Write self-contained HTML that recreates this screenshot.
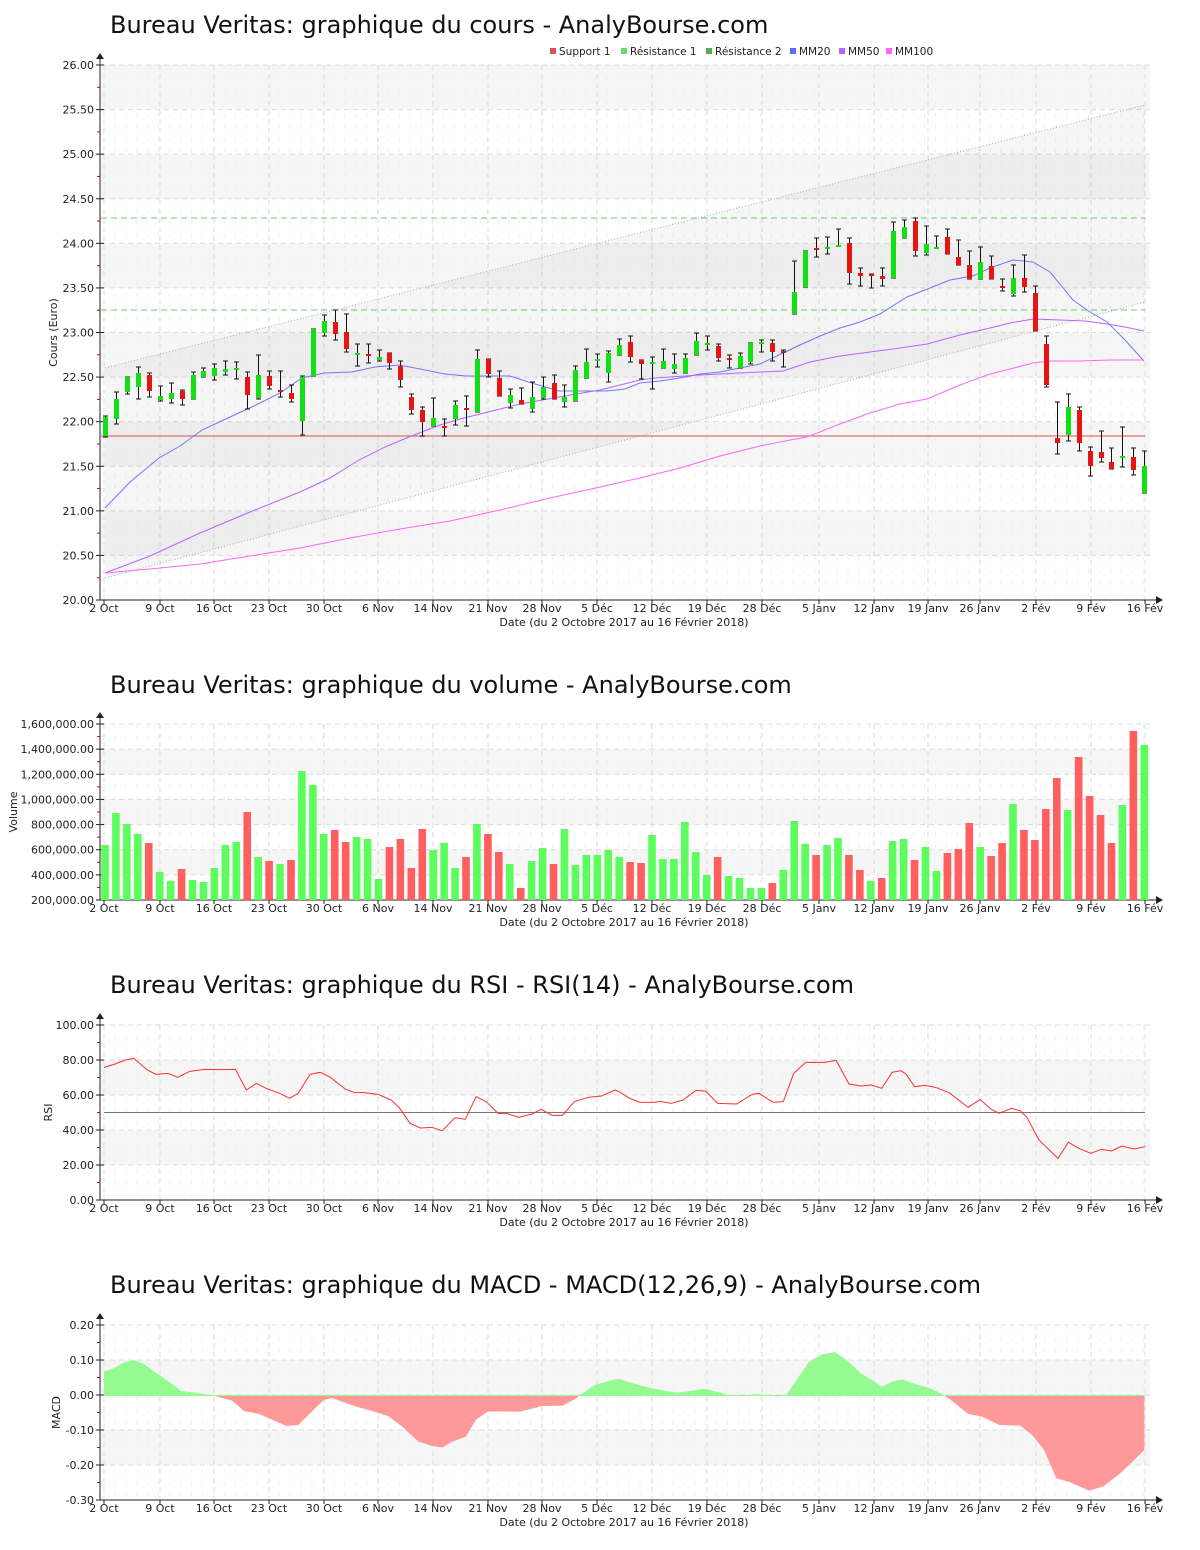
<!DOCTYPE html>
<html><head><meta charset="utf-8">
<style>
html,body{margin:0;padding:0;background:#fff;}
svg{display:block;}
text{font-family:"DejaVu Sans","Liberation Sans",sans-serif;}
</style></head>
<body>
<svg id="s" xmlns="http://www.w3.org/2000/svg" width="1200" height="1550" viewBox="0 0 1200 1550"></svg>
<script>
var S=document.getElementById('s');var out='';
var L=101,R=1150;
var dates=[[104,"2 Oct"],[160,"9 Oct"],[214,"16 Oct"],[269,"23 Oct"],[324,"30 Oct"],[378,"6 Nov"],[433,"14 Nov"],[488,"21 Nov"],[542,"28 Nov"],[597,"5 Déc"],[652,"12 Déc"],[707,"19 Déc"],[762,"28 Déc"],[819,"5 Janv"],[874,"12 Janv"],[928,"19 Janv"],[980,"26 Janv"],[1036,"2 Fév"],[1091,"9 Fév"],[1145,"16 Fév"]];
function X(i){return 105+i*10.94;}
function panel(top,bot,ticks,bands,title,titleY,ytitle,ytx){
  out+='<text x="110" y="'+titleY+'" font-size="24" fill="#111">'+title+'</text>';
  bands.forEach(function(b){out+='<rect x="'+L+'" y="'+b[0]+'" width="'+(R-L)+'" height="'+(b[1]-b[0])+'" fill="#f6f6f6"/>';});
  for(var i=0;i<96;i++){var x=X(i)-1;out+='<line x1="'+x+'" y1="'+top+'" x2="'+x+'" y2="'+bot+'" stroke="#efefef" stroke-dasharray="4,8"/>';}
  dates.forEach(function(d){out+='<line x1="'+d[0]+'" y1="'+top+'" x2="'+d[0]+'" y2="'+bot+'" stroke="#dcdcdc" stroke-dasharray="5,4"/>';});
  ticks.forEach(function(t,k){
    out+='<line x1="'+L+'" y1="'+t[0]+'" x2="'+R+'" y2="'+t[0]+'" stroke="#dcdcdc" stroke-dasharray="5,4"/>';
    out+='<line x1="96" y1="'+t[0]+'" x2="104" y2="'+t[0]+'" stroke="#222"/>';
    out+='<text x="94" y="'+(t[0]+4)+'" font-size="11" text-anchor="end" fill="#222">'+t[1]+'</text>';
    if(k<ticks.length-1){var m=(t[0]+ticks[k+1][0])/2;out+='<line x1="97" y1="'+m+'" x2="100" y2="'+m+'" stroke="#e00"/>';}
  });
  out+='<line x1="100" y1="'+(top-8)+'" x2="100" y2="'+bot+'" stroke="#222"/>';
  out+='<path d="M96 '+(top-6)+' L100 '+(top-12)+' L104 '+(top-6)+' Z" fill="#222"/>';
  out+='<line x1="100" y1="'+bot+'" x2="1158" y2="'+bot+'" stroke="#222"/>';
  out+='<path d="M1156 '+(bot-4)+' L1163 '+bot+' L1156 '+(bot+4)+' Z" fill="#222"/>';
  dates.forEach(function(d){
    out+='<line x1="'+d[0]+'" y1="'+bot+'" x2="'+d[0]+'" y2="'+(bot+4)+'" stroke="#222"/>';
    out+='<text x="'+d[0]+'" y="'+(bot+12)+'" font-size="11" text-anchor="middle" fill="#222">'+d[1]+'</text>';
  });
  out+='<text x="624" y="'+(bot+26)+'" font-size="11" text-anchor="middle" fill="#222">Date (du 2 Octobre 2017 au 16 Février 2018)</text>';
  var cy=(top+bot)/2;
  out+='<text x="'+ytx+'" y="'+cy+'" font-size="11" text-anchor="middle" fill="#222" transform="rotate(-90 '+ytx+' '+cy+')">'+ytitle+'</text>';
}
function poly(pts,col,w){out+='<polyline fill="none" stroke="'+col+'" stroke-width="'+(w||1)+'" points="'+pts.map(function(p){return p[0]+','+p[1]}).join(' ')+'"/>';}

function py(p){return 65+(26-p)*89.17;}
var t1=[],b1=[];
for(var k=0;k<=12;k++){var v=26-k*0.5;t1.push([py(v),v.toFixed(2)]);}
[[26,25.5],[25,24.5],[24,23.5],[23,22.5],[22,21.5],[21,20.5]].forEach(function(b){b1.push([py(b[0]),py(b[1])]);});
panel(65,600,t1,b1,"Bureau Veritas: graphique du cours - AnalyBourse.com",33,"Cours (Euro)",57);
out+='<polygon points="105,368 1145,105 1145,302 105,578" fill="rgba(0,0,0,0.035)"/>';
out+='<line x1="105" y1="368" x2="1145" y2="105" stroke="#aaa" stroke-dasharray="1,2"/>';
out+='<line x1="105" y1="578" x2="1145" y2="302" stroke="#aaa" stroke-dasharray="1,2"/>';
var lg=[[550,"#d05858","Support 1"],[621,"#66dd66","Résistance 1"],[706,"#55aa55","Résistance 2"],[790,"#6666ff","MM20"],[839,"#b066ff","MM50"],[886,"#ff66ff","MM100"]];
lg.forEach(function(l){out+='<rect x="'+l[0]+'" y="'+48+'" width="6" height="6" fill="'+l[1]+'"/><text x="'+(l[0]+9)+'" y="'+55+'" font-size="10.5" fill="#222">'+l[2]+'</text>';});
out+='<line x1="'+L+'" y1="436" x2="1145" y2="436" stroke="#e07070" stroke-width="1.2"/>';
out+='<line x1="'+L+'" y1="218" x2="1145" y2="218" stroke="#66cc66" stroke-dasharray="6,4"/>';
out+='<line x1="'+L+'" y1="310" x2="1145" y2="310" stroke="#66cc66" stroke-dasharray="6,4"/>';
poly([[105,508],[130,482],[159,458],[180,446],[202,430],[230,417],[256,405],[280,393],[302,378],[324,373],[352,372],[375,367],[399,365],[420,369],[445,374],[466,376],[488,376],[510,376],[535,384],[559,391],[580,391],[606,391],[625,389],[640,383],[660,381],[680,378],[700,374],[720,372],[740,368],[760,364],[783,353],[800,345],[820,336],[840,328],[860,322],[880,314],[907,297],[930,288],[950,280],[973,276],[990,268],[1013,260],[1033,262],[1050,272],[1073,300],[1090,312],[1107,322],[1125,340],[1144,361]],"#7575ff");
poly([[105,573],[150,556],[200,533],[250,512],[300,492],[330,478],[359,460],[385,447],[409,437],[440,425],[460,419],[488,412],[520,404],[559,397],[600,390],[640,380],[655,378],[700,375],[740,373],[783,371],[810,362],[840,356],[870,352],[900,348],[927,344],[960,335],[990,328],[1010,323],[1033,319],[1060,320],[1085,321],[1107,324],[1125,327],[1144,331]],"#b366ff");
poly([[105,573],[150,569],[200,564],[250,556],[300,548],[350,538],[400,529],[450,521],[500,510],[550,498],[600,487],[640,478],[680,468],[720,456],[760,446],[790,440],[807,437],[840,424],[870,413],[900,404],[927,399],[960,385],[990,374],[1010,369],[1033,363],[1050,361],[1080,361],[1110,360],[1144,360]],"#ff66ff");
var C=[
["g",416,437,417,436],["g",392,424,399,419],["g",377,394,377,392],["g",367,399,373,387],["r",373,397,375,391],
["g",386,401,396,400],["g",383,403,393,399],["r",390,405,391,399],["g",372,399,375,399],["g",368,377,371,377],
["g",364,380,368,376],["g",361,375,369,372],["g",362,379,368,370],["r",372,409,377,395],["g",355,399,375,398],
["r",371,389,376,386],["r",371,397,390,392],["r",385,402,393,399],["g",376,435,377,421],["g",329,376,329,376],
["g",315,336,321,333],["r",310,340,322,334],["r",314,352,332,349],["g",344,366,353,355],["r",344,363,354,356],
["g",350,361,357,360],["r",353,369,353,363],["r",361,387,366,380],["r",394,414,397,410],["r",407,436,410,422],
["g",398,426,418,426],["r",419,436,426,428],["g",401,425,405,419],["r",396,426,408,410],["g",350,412,359,412],
["r",359,377,359,374],["r",371,396,378,396],["g",389,408,395,403],["r",388,404,400,404],["g",382,412,397,409],
["g",377,399,387,398],["r",375,399,383,399],["g",385,407,397,402],["g",366,401,370,401],["g",349,378,362,378],
["g",354,367,359,361],["g",351,382,353,373],["g",339,355,345,355],["r",336,362,342,357],["r",360,379,360,364],
["g",357,389,362,364],["g",349,368,361,368],["g",354,373,364,369],["g",354,373,358,373],["g",333,355,341,355],
["g",336,350,343,345],["r",344,361,346,358],["r",355,368,358,359],["g",353,368,356,368],["g",343,364,343,362],
["g",340,352,342,344],["r",340,361,343,352],["r",350,367,351,353],["g",261,314,292,314],["g",251,287,251,287],
["r",238,257,248,250],["g",237,254,247,249],["g",229,246,245,246],["r",238,284,243,273],["r",268,286,273,276],
["r",274,288,274,275],["r",268,286,276,279],["g",222,278,231,278],["g",220,238,227,238],["r",218,256,221,251],
["g",226,255,244,253],["g",236,248,247,248],["r",229,254,237,254],["r",240,265,257,265],["r",251,279,265,279],
["g",247,279,262,279],["r",256,279,266,279],["r",279,291,286,287],["g",265,296,278,294],["r",255,292,278,287],
["r",286,331,293,331],["r",336,387,344,385],["r",402,454,438,443],["g",394,441,407,435],["r",407,451,410,443],
["r",447,476,451,466],["r",431,462,452,458],["r",448,469,462,469],["g",427,467,456,458],["r",448,475,457,470],
["g",451,493,466,493]];
C.forEach(function(c,i){var x=Math.round(X(i))+0.5;
 out+='<line x1="'+x+'" y1="'+c[1]+'" x2="'+x+'" y2="'+c[2]+'" stroke="#111"/>';
 out+='<line x1="'+(x-2.5)+'" y1="'+c[1]+'" x2="'+(x+2.5)+'" y2="'+c[1]+'" stroke="#111"/>';
 out+='<line x1="'+(x-2.5)+'" y1="'+c[2]+'" x2="'+(x+2.5)+'" y2="'+c[2]+'" stroke="#111"/>';
 var h=Math.max(2,c[4]-c[3]);
 out+='<rect x="'+(x-2.5)+'" y="'+c[3]+'" width="5" height="'+h+'" fill="'+(c[0]=="g"?"#12e012":"#e81414")+'"/>';
});

function vy(v){return 900-(v-200000)*176/1400000;}
var t2=[],b2=[];
for(var k=0;k<=7;k++){var v=1600000-k*200000;t2.push([vy(v),v.toLocaleString('en-US')+'.00']);}
[[1400000,1200000],[1000000,800000],[600000,400000]].forEach(function(b){b2.push([vy(b[0]),vy(b[1])]);});
panel(724,900,t2,b2,"Bureau Veritas: graphique du volume - AnalyBourse.com",693,"Volume",17);
var V=[["g",845],["g",813],["g",824],["g",834],["r",843],["g",872],["g",881],["r",869],["g",880],["g",882],
["g",868],["g",845],["g",842],["r",812],["g",857],["r",861],["g",864],["r",860],["g",771],["g",785],
["g",834],["r",830],["r",842],["g",837],["g",839],["g",879],["r",847],["r",839],["r",868],["r",829],
["g",850],["g",843],["g",868],["r",857],["g",824],["r",834],["r",852],["g",864],["r",888],["g",861],
["g",848],["r",864],["g",829],["g",865],["g",855],["g",855],["g",850],["g",857],["r",862],["r",863],
["g",835],["g",859],["g",859],["g",822],["g",852],["g",875],["r",857],["g",876],["g",878],["g",888],
["g",888],["r",883],["g",870],["g",821],["g",844],["r",855],["g",845],["g",838],["r",855],["r",870],
["g",881],["r",878],["g",841],["g",839],["r",860],["g",847],["g",871],["r",853],["r",849],["r",823],
["g",847],["r",856],["r",843],["g",804],["r",830],["r",840],["r",809],["r",778],["g",810],["r",757],
["r",796],["r",815],["r",843],["g",805],["r",731],["g",745]];
V.forEach(function(b,i){var x=X(i);out+='<rect x="'+(x-3.8)+'" y="'+b[1]+'" width="7.6" height="'+(900-b[1])+'" fill="'+(b[0]=="g"?"#5dfd5d":"#ff5f5f")+'"/>';});

function ry(v){return 1200-v*1.75;}
var t3=[],b3=[];
for(var k=0;k<=5;k++){var v=100-k*20;t3.push([ry(v),v.toFixed(2)]);}
b3=[[ry(80),ry(60)],[ry(40),ry(20)]];
panel(1025,1200,t3,b3,"Bureau Veritas: graphique du RSI - RSI(14) - AnalyBourse.com",993,"RSI",52);
out+='<line x1="104" y1="1112.5" x2="1145" y2="1112.5" stroke="#777"/>';
var rz=[[32,82],[65,72],[95,60],[120,55],[160,90],[185,103],[220,100],[250,112],[285,94],[330,88],[380,89],[420,88],[452,150],[482,130],[510,145],[550,160],[580,175],[605,160],[640,103],[670,97],[700,112],[745,148],[770,157],[800,158],[840,163],[880,180],[905,205],[935,250],[965,264],[1000,262],[1030,272],[1068,233],[1098,238],[1130,170],[1160,185],[1195,220],[1220,220],[1255,232],[1295,222],[1322,208],[1355,226],[1385,226],[1420,185],[1460,172],[1500,168],[1540,150]];
var rpts=rz.map(function(p){return [104+(p[0]-32)/2.951,1040+p[1]/3];});
var rz2=[[0,155],[30,175],[60,187],[100,187],[120,184],[150,190],[185,180],[222,151],[250,153],[285,190],[340,192],[385,163],[405,160],[445,187],[475,185],[505,100],[540,67],[595,67],[628,61],[665,132],[700,138],[730,135],[760,145],[790,97],[815,92],[830,102],[855,140],[885,136],[915,142],[955,158],[1010,202],[1045,178],[1075,207],[1100,220],[1135,205],[1160,212],[1180,232],[1215,300],[1240,325],[1270,355],[1300,307],[1330,325],[1365,340],[1395,328],[1425,333],[1455,318],[1490,327],[1522,320]];
rz2.forEach(function(p){rpts.push([652+(p[0]-95)/2.894,1040+p[1]/3]);});
poly(rpts,"#ff3030");

function my(v){return 1395-v*350;}
var t4=[],b4=[];
[0.2,0.1,0,-0.1,-0.2,-0.3].forEach(function(v){t4.push([my(v),v.toFixed(2)]);});
b4=[[my(0.1),my(0)],[my(-0.1),my(-0.2)]];
panel(1325,1500,t4,b4,"Bureau Veritas: graphique du MACD - MACD(12,26,9) - AnalyBourse.com",1293,"MACD",60);
var mz=[[32,95],[60,85],[90,68],[120,60],[150,72],[180,95],[210,115],[240,137],[260,153],[300,158],[340,164],[360,168],[410,182],[445,213],[490,222],[520,235],[570,258],[605,255],[650,210],[680,180],[705,174],[735,185],[770,198],[820,212],[870,228],[910,258],[960,305],[1000,318],[1030,322],[1060,305],[1100,290],[1130,238],[1165,215],[1200,214],[1260,215],[1325,198],[1385,197],[1425,175],[1440,163],[1480,135],[1540,118]];
var mpts=mz.map(function(p){return [104+(p[0]-32)/2.951,1340+p[1]/3];});
var mz2=[[0,117],[40,130],[95,145],[165,158],[195,155],[240,147],[265,150],[310,163],[340,168],[400,162],[460,170],[485,163],[510,125],[550,65],[590,42],[625,36],[660,62],[700,100],[740,126],[760,140],[790,125],[820,118],[850,130],[900,145],[935,162],[960,180],[1010,222],[1050,230],[1100,255],[1160,257],[1195,285],[1230,330],[1265,415],[1300,425],[1360,452],[1400,440],[1450,400],[1490,360],[1520,330]];
mz2.forEach(function(p){mpts.push([652+(p[0]-95)/2.894,1340+p[1]/3]);});
var area='M'+mpts[0][0]+' 1395 '+mpts.map(function(p){return 'L'+p[0]+' '+p[1]}).join(' ')+' L'+mpts[mpts.length-1][0]+' 1395 Z';
out+='<defs><clipPath id="cu"><rect x="0" y="1300" width="1200" height="95.5"/></clipPath><clipPath id="cd"><rect x="0" y="1395.5" width="1200" height="110"/></clipPath></defs>';
out+='<path d="'+area+'" fill="#95fa92" clip-path="url(#cu)"/>';
out+='<path d="'+area+'" fill="#ff9898" clip-path="url(#cd)"/>';
out+='<line x1="104" y1="1395.5" x2="1145" y2="1395.5" stroke="#95fa92"/>';

S.innerHTML=out;
</script>
</body></html>
